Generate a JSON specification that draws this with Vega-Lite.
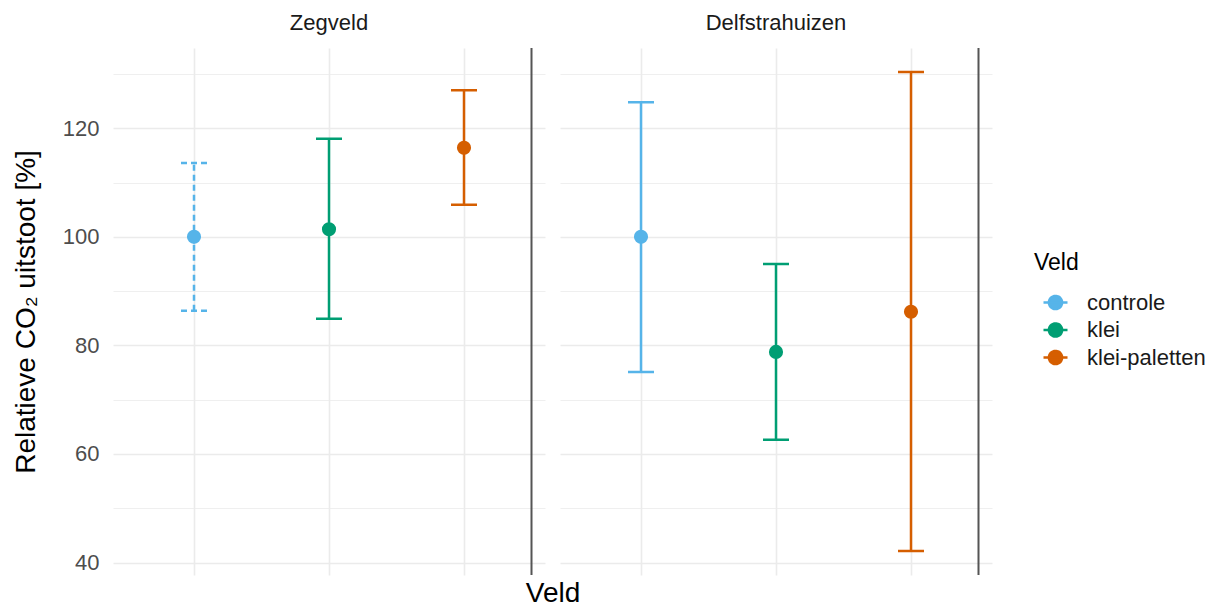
{
  "$schema": "https://vega.github.io/schema/vega-lite/v6.json",
  "padding": {"left": 12, "top": 12, "right": 0, "bottom": 0},
  "background": "white",
  "config": {"view": {"stroke": null}, "font": "Liberation Sans"},
  "data": {"values": [
    {"Locatie": "Zegveld", "Veld": "controle", "gem": 100.0, "laag": 86.4, "hoog": 113.6},
    {"Locatie": "Zegveld", "Veld": "klei", "gem": 101.4, "laag": 84.9, "hoog": 118.1},
    {"Locatie": "Zegveld", "Veld": "klei-paletten", "gem": 116.4, "laag": 105.9, "hoog": 127.0},
    {"Locatie": "Delfstrahuizen", "Veld": "controle", "gem": 100.0, "laag": 75.1, "hoog": 124.8},
    {"Locatie": "Delfstrahuizen", "Veld": "klei", "gem": 78.8, "laag": 62.6, "hoog": 95.0},
    {"Locatie": "Delfstrahuizen", "Veld": "klei-paletten", "gem": 86.2, "laag": 42.1, "hoog": 130.4}
  ]},
  "facet": {"column": {"field": "Locatie", "type": "nominal", "sort": ["Zegveld", "Delfstrahuizen"],
    "header": {"title": "Veld", "titleOrient": "bottom", "labelOrient": "top", "labelFontSize": 22, "labelColor": "#1A1A1A", "labelPadding": 12, "titleFontSize": 28, "titleFontWeight": "normal", "titleColor": "#000000", "titlePadding": -6}}},
  "spacing": 15,
  "spec": {
    "width": 432,
    "height": 527,
    "layer": [
      {
        "transform": [{"filter": "datum.Veld === 'klei-paletten'"}],
        "mark": {"type": "rule", "color": "#555555", "strokeWidth": 2},
        "encoding": {
          "x": {"datum": "klei-paletten", "type": "nominal", "bandPosition": 1, "scale": {"type": "band", "domain": ["controle", "klei", "klei-paletten"], "paddingInner": 0, "paddingOuter": 0.1}}
        }
      },
      {
        "mark": {"type": "rule", "strokeWidth": 2.5},
        "encoding": {
          "x": {"field": "Veld", "type": "nominal", "scale": {"type": "band", "domain": ["controle", "klei", "klei-paletten"], "paddingInner": 0, "paddingOuter": 0.1},
            "axis": {"title": null, "labels": false, "ticks": false, "domain": false, "grid": true, "gridColor": "#EBEBEB", "gridWidth": 1.6, "bandPosition": 0.5}},
          "y": {"field": "laag", "type": "quantitative", "title": "Relatieve CO₂ uitstoot [%]",
            "scale": {"domain": [37.7, 134.8], "nice": false, "zero": false},
            "axis": {"values": [40, 50, 60, 70, 80, 90, 100, 110, 120, 130], "labelExpr": "datum.value % 20 === 0 ? datum.label : ''",
              "ticks": false, "domain": false, "labelFontSize": 22, "labelColor": "#4D4D4D", "labelPadding": 14,
              "titleFontSize": 28, "titleFontWeight": "normal", "titleColor": "#000000", "titlePadding": 22,
              "gridColor": "#EBEBEB", "gridWidth": {"condition": {"test": "datum.value % 20 === 0", "value": 1.6}, "value": 0.8}}},
          "y2": {"field": "hoog"},
          "color": {"field": "Veld", "type": "nominal", "scale": {"domain": ["controle", "klei", "klei-paletten"], "range": ["#56B4E9", "#009E73", "#D55E00"]},
            "legend": {"title": "Veld", "orient": "none", "legendX": 921, "legendY": 204,
              "symbolType": "M-1,0L1,0M-0.55,0A0.55,0.55,0,1,1,0.55,0A0.55,0.55,0,1,1,-0.55,0Z",
              "symbolSize": 576, "symbolStrokeWidth": 2.5, "symbolOffset": 8,
              "labelFontSize": 22, "labelColor": "#1A1A1A", "labelOffset": 18, "rowPadding": 1.5,
              "titleFontSize": 23, "titleFontWeight": "normal", "titleColor": "#000000", "titlePadding": 14,
              "encode": {"symbols": {"update": {"fill": {"scale": "color", "field": "value"}, "stroke": {"scale": "color", "field": "value"}, "opacity": {"value": 1}, "strokeDash": {"value": [1, 0]}}}}}},
          "strokeDash": {"condition": {"test": "datum.Locatie === 'Zegveld' && datum.Veld === 'controle'", "value": [6, 4]}, "value": [1, 0]}
        }
      },
      {
        "mark": {"type": "point", "shape": "M-1,0L1,0", "filled": false, "strokeWidth": 2.5, "size": 676, "opacity": 1},
        "encoding": {
          "x": {"field": "Veld", "type": "nominal"},
          "y": {"field": "laag", "type": "quantitative", "title": "Relatieve CO₂ uitstoot [%]"},
          "color": {"field": "Veld", "type": "nominal"},
          "strokeDash": {"condition": {"test": "datum.Locatie === 'Zegveld' && datum.Veld === 'controle'", "value": [6, 4]}, "value": [1, 0]}
        }
      },
      {
        "mark": {"type": "point", "shape": "M-1,0L1,0", "filled": false, "strokeWidth": 2.5, "size": 676, "opacity": 1},
        "encoding": {
          "x": {"field": "Veld", "type": "nominal"},
          "y": {"field": "hoog", "type": "quantitative", "title": "Relatieve CO₂ uitstoot [%]"},
          "color": {"field": "Veld", "type": "nominal"},
          "strokeDash": {"condition": {"test": "datum.Locatie === 'Zegveld' && datum.Veld === 'controle'", "value": [6, 4]}, "value": [1, 0]}
        }
      },
      {
        "mark": {"type": "point", "shape": "circle", "filled": true, "size": 200, "opacity": 1},
        "encoding": {
          "x": {"field": "Veld", "type": "nominal"},
          "y": {"field": "gem", "type": "quantitative", "title": "Relatieve CO₂ uitstoot [%]"},
          "color": {"field": "Veld", "type": "nominal"}
        }
      }
    ]
  }
}
